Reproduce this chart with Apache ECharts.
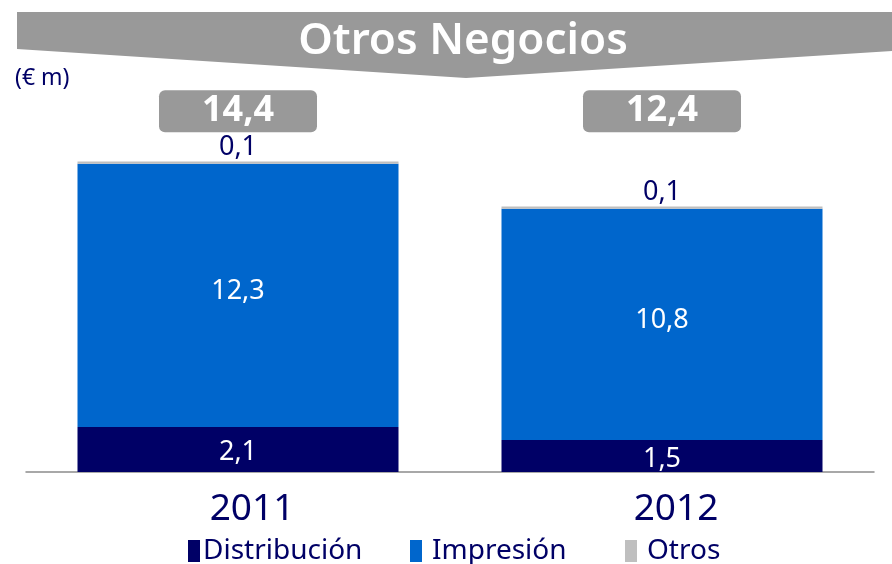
<!DOCTYPE html>
<html>
<head>
<meta charset="utf-8">
<script src="https://cdn.jsdelivr.net/npm/echarts@6/dist/echarts.min.js"></script>
<style>
  html, body { margin: 0; padding: 0; background: #ffffff; }
  #chart { width: 892px; height: 564px; }
</style>
</head>
<body>
<div id="chart"></div>
<script>
// Ingresos de Otros Negocios por línea (millones de euros)
const years = ['2011', '2012'];
const distribucion = [2.1, 1.5];
const impresion = [12.3, 10.8];
const otros = [0.1, 0.1];
const totales = [14.4, 12.4];

const NAVY = '#000066';
const BLUE = '#0066CC';
const LIGHT_GREY = '#BFBFBF';
const BANNER_GREY = '#999999';
const FONT = '"Noto Sans", "Open Sans", sans-serif';

const fmt = v => String(v).replace('.', ',');

// nivel fijo (en unidades del eje) donde se colocan las cajas de totales
const TOTAL_LEVEL = 16.85;

const chart = echarts.init(document.getElementById('chart'), null, { renderer: 'canvas' });

const insideLabel = {
  show: true,
  position: 'inside',
  color: '#ffffff',
  fontSize: 27,
  fontFamily: FONT,
  formatter: p => fmt(p.value)
};

const legendText = { color: NAVY, fontSize: 28, fontFamily: FONT };
const legendBase = {
  top: 532,
  itemWidth: 12,
  itemHeight: 22,
  icon: 'rect',
  selectedMode: false
};

chart.setOption({
  animation: false,
  backgroundColor: '#ffffff',
  textStyle: { fontFamily: FONT },
  grid: { left: 26, right: 18, top: 108, bottom: 92 },
  xAxis: {
    type: 'category',
    data: years,
    axisLine: { show: true, lineStyle: { color: '#8c8c8c', width: 1.5 } },
    axisTick: { show: false },
    axisLabel: {
      color: NAVY,
      fontSize: 37,
      fontFamily: FONT,
      margin: 19,
      padding: [0, 0, 0, 28]
    }
  },
  yAxis: {
    type: 'value',
    min: 0,
    max: 17,
    show: false,
    splitLine: { show: false }
  },
  legend: [
    Object.assign({}, legendBase, {
      left: 183,
      data: ['Distribución'],
      textStyle: Object.assign({}, legendText, { padding: [0, 0, 0, -2] })
    }),
    Object.assign({}, legendBase, {
      left: 405,
      data: ['Impresión'],
      textStyle: Object.assign({}, legendText, { padding: [0, 0, 0, 5] })
    }),
    Object.assign({}, legendBase, {
      left: 620,
      data: ['Otros'],
      textStyle: Object.assign({}, legendText, { padding: [0, 0, 0, 5] })
    })
  ],
  series: [
    {
      name: 'Distribución',
      type: 'bar',
      stack: 'total',
      barWidth: 321,
      itemStyle: { color: NAVY },
      label: Object.assign({}, insideLabel, { offset: [0, 3] }),
      data: distribucion
    },
    {
      name: 'Impresión',
      type: 'bar',
      stack: 'total',
      itemStyle: { color: BLUE },
      label: Object.assign({}, insideLabel, { offset: [0, -4] }),
      data: impresion
    },
    {
      name: 'Otros',
      type: 'bar',
      stack: 'total',
      itemStyle: { color: LIGHT_GREY },
      label: {
        show: true,
        position: 'top',
        distance: 1,
        color: NAVY,
        fontSize: 27,
        fontFamily: FONT,
        formatter: p => fmt(p.value)
      },
      data: otros
    },
    {
      name: 'Total',
      type: 'scatter',
      symbolSize: 1,
      itemStyle: { color: 'transparent', opacity: 1 },
      silent: true,
      label: {
        show: true,
        position: 'inside',
        formatter: p => fmt(totales[p.dataIndex]),
        color: '#ffffff',
        fontSize: 36,
        fontWeight: 'bold',
        fontFamily: FONT,
        backgroundColor: BANNER_GREY,
        borderRadius: 6,
        width: 158,
        height: 42,
        lineHeight: 42,
        align: 'center',
        verticalAlign: 'middle'
      },
      data: years.map(y => [y, TOTAL_LEVEL])
    }
  ],
  graphic: [
    {
      type: 'polygon',
      shape: { points: [[17, 12], [892, 12], [892, 51], [466, 78], [17, 49]] },
      style: { fill: BANNER_GREY }
    },
    {
      type: 'text',
      x: 463,
      y: 41,
      style: {
        text: 'Otros Negocios',
        fill: '#ffffff',
        fontSize: 44,
        fontWeight: 600,
        fontFamily: FONT,
        textAlign: 'center',
        textVerticalAlign: 'middle'
      }
    },
    {
      type: 'text',
      x: 15,
      y: 78,
      style: {
        text: '(€ m)',
        fill: NAVY,
        fontSize: 23,
        fontFamily: FONT,
        textAlign: 'left',
        textVerticalAlign: 'middle'
      }
    }
  ]
});
</script>
</body>
</html>
